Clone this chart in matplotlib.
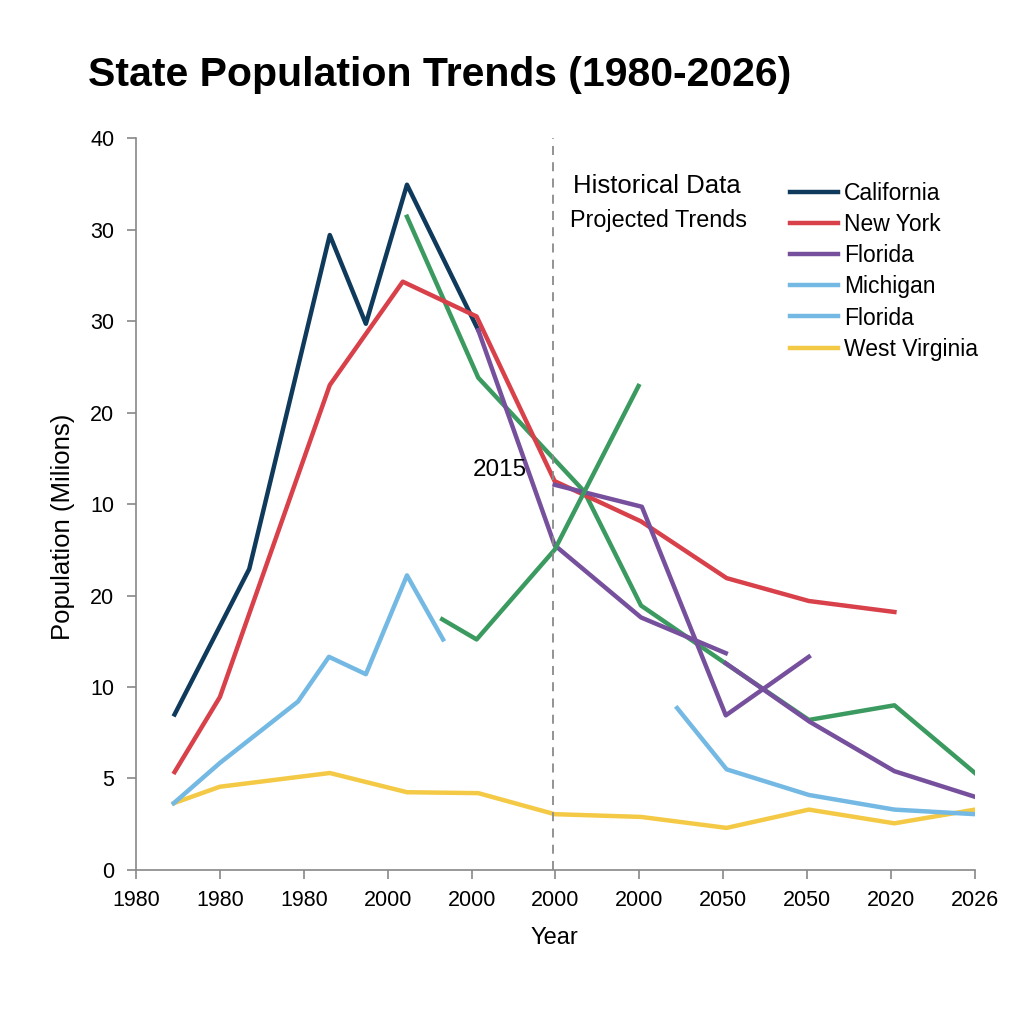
import matplotlib
matplotlib.use("Agg")
import matplotlib.pyplot as plt
from matplotlib.lines import Line2D

# tick labels as printed on the chart (positions 0..n-1)
x_labels = ['1980', '1980', '1980', '2000', '2000', '2000', '2000', '2050', '2050', '2020', '2026']
y_labels = ['0', '5', '10', '20', '10', '20', '30', '30', '40']

# series, in tick-position units
ca_x = [0.46, 1.35, 2.31, 2.74, 3.23, 4.08]
ca_y = [1.70, 3.29, 6.94, 5.97, 7.49, 5.90]

ny_x = [0.46, 1.00, 2.31, 3.18, 4.06, 4.99, 6.02, 7.04, 8.02, 9.04]
ny_y = [1.07, 1.89, 5.30, 6.43, 6.05, 4.25, 3.81, 3.19, 2.94, 2.82]

fl_a_x = [4.08, 4.99, 6.02, 7.03]
fl_a_y = [5.90, 3.55, 2.76, 2.37]
fl_b_x = [4.99, 6.03, 7.03, 8.02]
fl_b_y = [4.21, 3.97, 1.69, 2.33]
fl_c_x = [7.03, 8.03, 9.04, 10.0]
fl_c_y = [2.26, 1.62, 1.08, 0.80]

gr1_x = [3.23, 4.08, 5.34, 6.02, 7.04, 8.02, 9.04, 10.0]
gr1_y = [7.14, 5.38, 4.14, 2.89, 2.25, 1.64, 1.80, 1.06]
gr2_x = [3.65, 4.06, 4.99, 5.99]
gr2_y = [2.74, 2.52, 3.50, 5.29]

mi_x = [0.45, 1.00, 1.93, 2.30, 2.74, 3.23, 3.66]
mi_y = [0.73, 1.17, 1.84, 2.33, 2.14, 3.22, 2.52]

fl2_x = [6.45, 7.04, 8.02, 9.04, 10.0]
fl2_y = [1.77, 1.10, 0.82, 0.66, 0.61]

wv_x = [0.45, 1.00, 2.31, 3.23, 4.08, 4.99, 6.02, 7.04, 8.02, 9.04, 10.0]
wv_y = [0.73, 0.91, 1.06, 0.85, 0.84, 0.61, 0.58, 0.46, 0.66, 0.51, 0.66]

split_x = 4.97

NAVY = '#0f3a5c'
RED = '#d8404a'
PURPLE = '#77509d'
LBLUE = '#74b9e3'
YELLOW = '#f4c945'
GREEN = '#3a9a5f'

plt.rcParams['font.family'] = ['Liberation Sans', 'DejaVu Sans']

fig = plt.figure(figsize=(10.24, 10.24), dpi=100)
ax = fig.add_axes([0.1328, 0.1504, 0.8193, 0.7148])

lw = 3.2
ax.plot(wv_x, wv_y, color=YELLOW, lw=lw)
ax.plot(mi_x, mi_y, color=LBLUE, lw=lw)
ax.plot(fl2_x, fl2_y, color=LBLUE, lw=lw)
ax.plot(gr1_x, gr1_y, color=GREEN, lw=lw)
ax.plot(ca_x, ca_y, color=NAVY, lw=lw)
ax.plot(fl_a_x, fl_a_y, color=PURPLE, lw=lw)
ax.plot(fl_c_x, fl_c_y, color=PURPLE, lw=lw)
ax.plot(ny_x, ny_y, color=RED, lw=lw)
ax.plot(fl_b_x, fl_b_y, color=PURPLE, lw=lw)
ax.plot(gr2_x, gr2_y, color=GREEN, lw=lw)

ax.axvline(split_x, color='#8a8a8a', lw=1.3, ls=(0, (5, 4)))

ax.set_xlim(0, 10)
ax.set_ylim(0, 8)
ax.set_xticks(range(len(x_labels)))
ax.set_xticklabels(x_labels)
ax.set_yticks(range(len(y_labels)))
ax.set_yticklabels(y_labels)
ax.tick_params(axis='both', labelsize=15.5, color='#888888', length=6.5, width=1.2)
ax.tick_params(axis='x', pad=8)
ax.tick_params(axis='y', pad=9)
for s in ['top', 'right']:
    ax.spines[s].set_visible(False)
for s in ['left', 'bottom']:
    ax.spines[s].set_color('#888888')
    ax.spines[s].set_linewidth(1.2)

ax.set_xlabel('Year', fontsize=17)
ax.xaxis.set_label_coords(0.499, -0.078)
ax.set_ylabel('Population (Milions)', fontsize=18.5)
ax.yaxis.set_label_coords(-0.073, 0.469)

ax.text(6.21, 7.48, 'Historical Data', fontsize=18.5, ha='center', va='center')
ax.text(6.23, 7.10, 'Projected Trends', fontsize=16.8, ha='center', va='center')
ax.text(4.34, 4.37, '2015', fontsize=17.5, ha='center', va='center')

handles = [Line2D([], [], color=c, lw=lw) for c in [NAVY, RED, PURPLE, LBLUE, LBLUE, YELLOW]]
labels = ['California', 'New York', 'Florida', 'Michigan', 'Florida', 'West Virginia']
ax.legend(handles, labels, loc='upper left', bbox_to_anchor=(0.766, 0.955), frameon=False,
          fontsize=16.5, handlelength=2.1, handletextpad=0.25, labelspacing=0.35, borderpad=0)

fig.text(0.086, 0.927, 'State Population Trends (1980-2026)', fontsize=29.5, fontweight='bold',
         ha='left', va='center')

fig.savefig('out.png', dpi=100, facecolor='white')
